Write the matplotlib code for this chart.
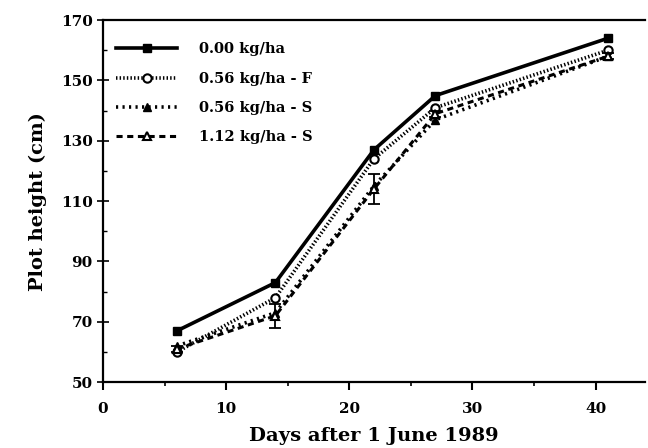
import matplotlib
matplotlib.use("Agg")
import matplotlib.pyplot as plt
from matplotlib.ticker import MultipleLocator, FixedLocator

days = [6, 14, 22, 27, 41]
h_000 = [67, 83, 127, 145, 164]
h_056f = [60, 78, 124, 141, 160]
h_056s = [62, 73, 115, 137, 158]
h_112s = [61, 72, 114, 139, 158]
err_112s = [1, 4, 5, 1, 1]
labels = ["0.00 kg/ha", "0.56 kg/ha - F", "0.56 kg/ha - S", "1.12 kg/ha - S"]
y_major = [50, 70, 90, 110, 130, 150, 170]

plt.rcParams['font.family'] = ['DejaVu Serif']
plt.rcParams['font.weight'] = 'bold'

fig = plt.figure(figsize=(6.48, 4.48), dpi=100)
ax = fig.add_axes([0.159, 0.147, 0.836, 0.808])

ax.plot(days, h_000, color='black', lw=2.6, marker='s', ms=6, label=labels[0])
ax.plot(days, h_056f, color='black', lw=2.6, ls=(0, (0.4, 0.6)), marker='o', ms=6,
        mfc='white', mew=1.5, label=labels[1])
ax.plot(days, h_056s, color='black', lw=2.6, ls=(0, (0.6, 1.2)), marker='^', ms=6,
        label=labels[2])
# error bars drawn apart so the legend handle stays a plain line
ax.errorbar(days, h_112s, yerr=err_112s, fmt='none', ecolor='black', capsize=4,
            elinewidth=1.3, capthick=1.3)
ax.plot(days, h_112s, color='black', lw=2.2, ls=(0, (2, 1.5)), marker='^', ms=6,
        mfc='white', mew=1.5, label=labels[3])

ax.set_xlim(0, 44)
ax.set_ylim(50, 170)
ax.xaxis.set_major_locator(MultipleLocator(10))
ax.xaxis.set_minor_locator(MultipleLocator(5))
ax.yaxis.set_major_locator(FixedLocator(y_major))
ax.yaxis.set_minor_locator(FixedLocator([v + 10 for v in y_major[:-1]]))
ax.tick_params(axis='x', which='major', direction='out', length=6, width=1.5, labelsize=11, pad=8)
ax.tick_params(axis='x', which='minor', direction='out', length=3, width=1.2)
ax.tick_params(axis='y', which='major', direction='inout', length=8, width=1.2, labelsize=11)
ax.tick_params(axis='y', which='minor', direction='in', length=3, width=1.0)

ax.spines['right'].set_visible(False)
for s in ['left', 'bottom', 'top']:
    ax.spines[s].set_linewidth(1.6)

ax.set_xlabel("Days after 1 June 1989", fontsize=14, fontweight='bold', labelpad=8)
ax.set_ylabel("Plot height (cm)", fontsize=14, fontweight='bold', labelpad=10)

leg = ax.legend(loc='upper left', frameon=False, fontsize=10.5, handlelength=4.2,
                bbox_to_anchor=(0.0, 0.975), labelspacing=1.05, handletextpad=1.5)

fig.savefig("out.png", dpi=100)
